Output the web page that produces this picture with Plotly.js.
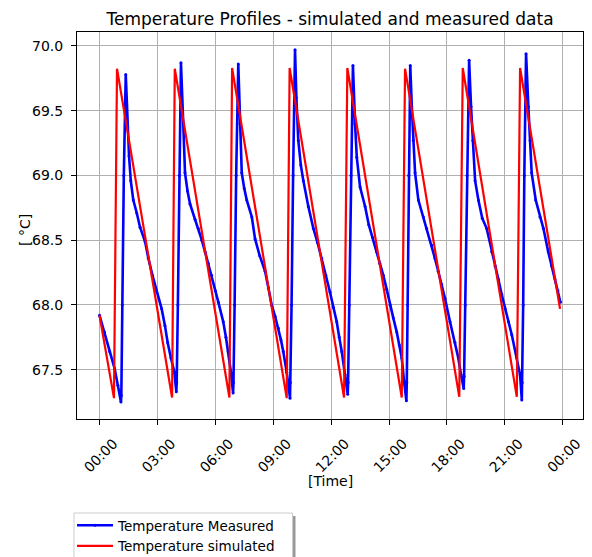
<!DOCTYPE html>
<html>
<head>
<meta charset="utf-8">
<script src="https://cdn.plot.ly/plotly-3.0.1.min.js"></script>
<style>
  html, body { margin: 0; padding: 0; background: #ffffff; }
  #chart { width: 592px; height: 557px; }
</style>
</head>
<body>
<div id="chart"></div>
<script>
// ---- Data (hours since midnight, temperature in °C) ----
const measuredHours = [
  0.00, 0.26, 0.52, 0.78, 0.95, 1.11,
  1.13, 1.18, 1.26, 1.36,
  1.44, 1.53, 1.62, 1.75, 1.93, 2.10, 2.36, 2.53, 2.74, 2.96, 3.22, 3.39, 3.53, 3.70, 3.88, 3.98,
  4.00, 4.06, 4.13, 4.22,
  4.34, 4.43, 4.56, 4.69, 4.95, 5.12, 5.30, 5.47, 5.64, 5.81, 6.00, 6.16, 6.41, 6.55, 6.67, 6.81, 6.92,
  6.94, 7.00, 7.08, 7.19,
  7.28, 7.37, 7.50, 7.63, 7.89, 8.06, 8.30, 8.58, 8.75, 8.92, 9.10, 9.27, 9.40, 9.52, 9.70, 9.87,
  9.89, 9.95, 10.03, 10.13,
  10.20, 10.30, 10.43, 10.56, 10.82, 11.08, 11.30, 11.51, 11.72, 11.94, 12.12, 12.29, 12.42, 12.55, 12.72, 12.86,
  12.88, 12.94, 13.03, 13.13,
  13.24, 13.33, 13.50, 13.76, 13.95, 14.15, 14.36, 14.52, 14.70, 14.88, 15.05, 15.22, 15.40, 15.53, 15.66, 15.78, 15.90,
  15.92, 15.96, 16.02, 16.10,
  16.18, 16.26, 16.35, 16.52, 16.78, 16.95, 17.21, 17.38, 17.55, 17.72, 17.90, 18.16, 18.42, 18.59, 18.73, 18.87,
  18.89, 18.95, 19.04, 19.15,
  19.25, 19.34, 19.46, 19.63, 19.83, 20.06, 20.32, 20.49, 20.66, 20.84, 21.01, 21.19, 21.36, 21.62, 21.79, 21.88,
  21.90, 21.95, 22.01, 22.10,
  22.22, 22.31, 22.39, 22.60, 22.82, 23.00, 23.25, 23.43, 23.60, 23.75, 23.88
];
const measuredTemp = [
  67.92, 67.79, 67.64, 67.51, 67.38, 67.25,
  67.30, 68.00, 69.00, 69.78,
  69.40, 69.15, 68.96, 68.81, 68.71, 68.60, 68.49, 68.36, 68.23, 68.10, 67.97, 67.84, 67.71, 67.59, 67.48, 67.33,
  67.40, 68.00, 69.00, 69.87,
  69.40, 69.02, 68.88, 68.78, 68.66, 68.59, 68.50, 68.41, 68.32, 68.23, 68.11, 68.02, 67.87, 67.75, 67.64, 67.48, 67.32,
  67.40, 68.00, 69.00, 69.86,
  69.40, 69.02, 68.90, 68.81, 68.68, 68.51, 68.38, 68.26, 68.13, 68.00, 67.91, 67.82, 67.73, 67.64, 67.48, 67.28,
  67.40, 68.00, 69.00, 69.97,
  69.60, 69.27, 69.08, 68.96, 68.76, 68.59, 68.48, 68.36, 68.23, 68.10, 67.98, 67.87, 67.75, 67.64, 67.46, 67.31,
  67.40, 68.00, 69.00, 69.85,
  69.40, 69.14, 68.91, 68.76, 68.62, 68.52, 68.41, 68.32, 68.23, 68.12, 68.00, 67.90, 67.79, 67.69, 67.59, 67.41, 67.26,
  67.40, 68.00, 69.00, 69.85,
  69.53, 69.27, 69.02, 68.81, 68.68, 68.59, 68.46, 68.36, 68.26, 68.16, 68.05, 67.87, 67.71, 67.59, 67.46, 67.355,
  67.45, 68.00, 69.00, 69.89,
  69.53, 69.27, 68.96, 68.81, 68.67, 68.59, 68.41, 68.30, 68.20, 68.08, 67.97, 67.87, 67.77, 67.59, 67.46, 67.265,
  67.40, 68.00, 69.00, 69.94,
  69.53, 69.27, 69.02, 68.81, 68.68, 68.59, 68.41, 68.30, 68.20, 68.11, 68.02
];
const simulatedHours = [
  0.00, 0.75, 0.907, 3.76, 3.90, 6.73, 6.87, 9.70, 9.85, 12.67, 12.84,
  15.66, 15.83, 18.64, 18.82, 21.62, 21.79, 23.86
];
const simulatedTemp = [
  67.92, 67.28, 69.825, 67.285, 69.825, 67.285, 69.83, 67.28, 69.83, 67.285, 69.83,
  67.285, 69.825, 67.29, 69.83, 67.29, 69.83, 67.97
];
const yTickValues = [67.5, 68.0, 68.5, 69.0, 69.5, 70.0];
const seriesNames = ["Temperature Measured", "Temperature simulated"];

// ---- helpers ----
const BASE = Date.UTC(2019, 0, 1, 0, 0, 0);
function hoursToDate(h) {
  return new Date(BASE + h * 3600000).toISOString().replace('T', ' ').replace('Z', '');
}

// plot-area geometry in pixels (for legend box shapes)
const W = 592, H = 557, ML = 77, MR = 9, MT = 32, MB = 138;
const PW = W - ML - MR, PH = H - MT - MB;
const px2x = p => (p - ML) / PW;
const py2y = p => (H - MB - p) / PH;

const font = 'DejaVu Sans, Liberation Sans, sans-serif';

const traces = [
  {
    x: measuredHours.map(hoursToDate),
    y: measuredTemp,
    name: seriesNames[0],
    type: 'scatter',
    mode: 'lines+markers',
    line: { color: '#0000ff', width: 2.6 },
    marker: { color: '#0000ff', size: 3 }
  },
  {
    x: simulatedHours.map(hoursToDate),
    y: simulatedTemp,
    name: seriesNames[1],
    type: 'scatter',
    mode: 'lines',
    line: { color: '#ff0000', width: 2.2 }
  }
];

const layout = {
  width: W, height: H,
  margin: { l: ML, r: MR, t: MT, b: MB, pad: 0, autoexpand: false },
  paper_bgcolor: '#ffffff',
  plot_bgcolor: '#ffffff',
  font: { family: font, size: 14, color: '#000000' },
  title: {
    text: 'Temperature Profiles - simulated and measured data',
    font: { family: font, size: 17, color: '#000000' },
    x: 330 / W, xanchor: 'center',
    y: 1 - 19 / H, yanchor: 'middle'
  },
  xaxis: {
    type: 'date',
    automargin: false,
    range: [hoursToDate(-1.166), hoursToDate(25.05)],
    tick0: hoursToDate(0),
    dtick: 3 * 3600000,
    tickformat: '%H:%M',
    tickangle: -45,
    ticklabelshift: 14,
    ticklabelstandoff: 5,
    showgrid: true, gridcolor: '#b0b0b0', gridwidth: 1,
    zeroline: false,
    showline: true, linecolor: '#000000', linewidth: 1, mirror: true,
    ticks: 'outside', ticklen: 5, tickcolor: '#000000',
    tickfont: { family: font, size: 14, color: '#000000' }
  },
  yaxis: {
    automargin: false,
    range: [67.119, 70.108],
    tickvals: yTickValues,
    tickformat: '.1f',
    ticklabelstandoff: 5,
    showgrid: true, gridcolor: '#b0b0b0', gridwidth: 1,
    zeroline: false,
    showline: true, linecolor: '#000000', linewidth: 1, mirror: true,
    ticks: 'outside', ticklen: 5, tickcolor: '#000000',
    tickfont: { family: font, size: 14, color: '#000000' }
  },
  annotations: [
    { text: '[ °C]', xref: 'paper', yref: 'paper', x: px2x(25), y: py2y(230),
      xanchor: 'center', yanchor: 'middle', textangle: -90, showarrow: false,
      font: { family: font, size: 14, color: '#000000' } },
    { text: '[Time]', xref: 'paper', yref: 'paper', x: px2x(330), y: py2y(481),
      xanchor: 'center', yanchor: 'middle', showarrow: false,
      font: { family: font, size: 14, color: '#000000' } }
  ],
  showlegend: true,
  legend: {
    x: px2x(72), xanchor: 'left',
    y: py2y(510), yanchor: 'top',
    bgcolor: 'rgba(0,0,0,0)', borderwidth: 0,
    font: { family: font, size: 13.5, color: '#000000' },
    tracegroupgap: 0,
    itemwidth: 36
  },
  shapes: [
    { type: 'rect', xref: 'paper', yref: 'paper', layer: 'above',
      x0: px2x(77), x1: px2x(295.5), y0: py2y(516), y1: py2y(580),
      fillcolor: '#999999', line: { width: 0 } },
    { type: 'rect', xref: 'paper', yref: 'paper', layer: 'above',
      x0: px2x(74), x1: px2x(292.5), y0: py2y(513), y1: py2y(578),
      fillcolor: '#ffffff', line: { color: '#cccccc', width: 1 } }
  ]
};

Plotly.newPlot('chart', traces, layout, { staticPlot: true, displayModeBar: false });
</script>
</body>
</html>
